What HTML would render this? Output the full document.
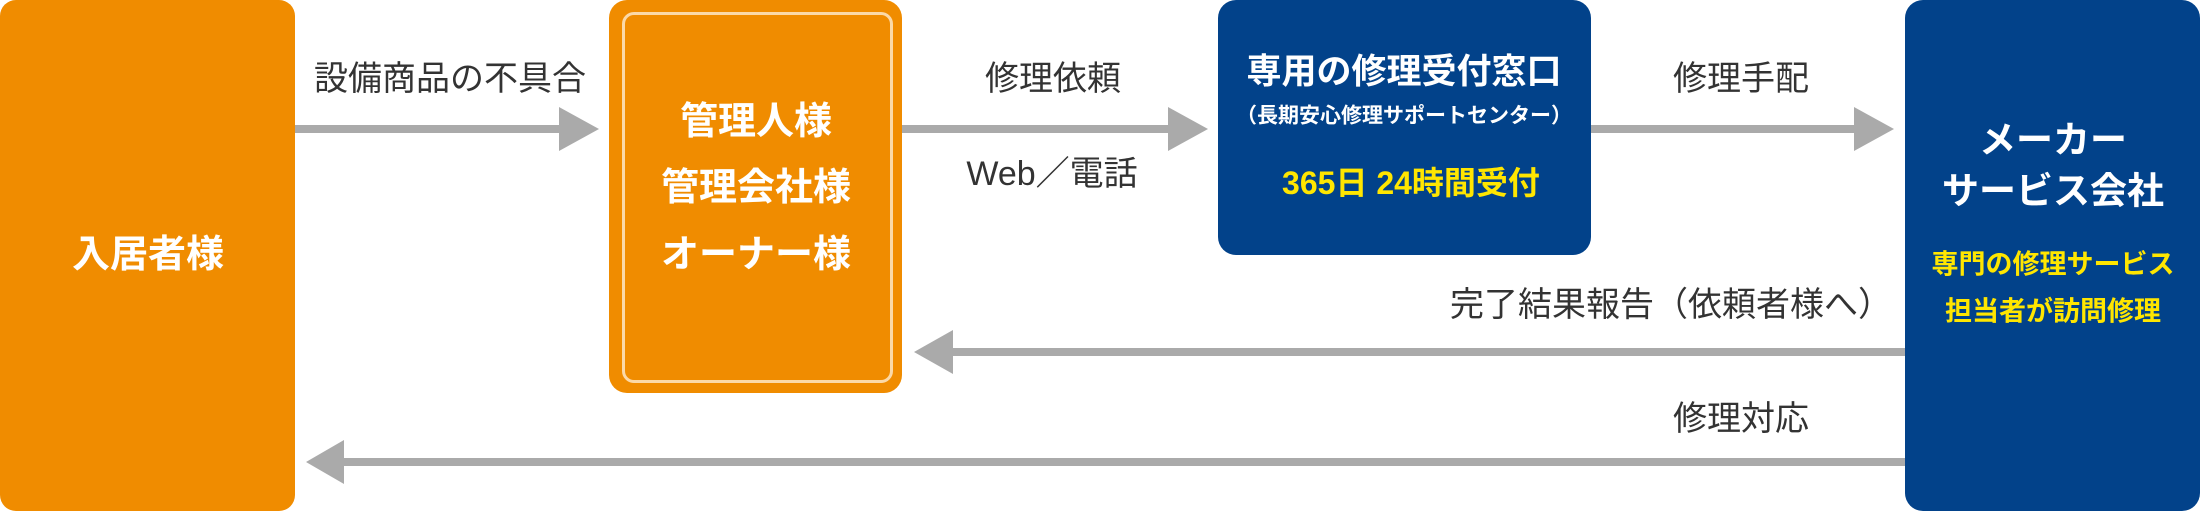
<!DOCTYPE html>
<html><head><meta charset="utf-8"><style>
html,body{margin:0;padding:0;background:#fff}
body{width:2200px;height:511px;position:relative;overflow:hidden;font-family:"Liberation Sans","Noto Sans CJK JP",sans-serif}
.b{position:absolute}
.t{position:absolute;white-space:nowrap;transform:translate(-50%,-50%);line-height:1}
.w{color:#fff;font-weight:bold}
.y{color:#FFE600;font-weight:bold}
.g{color:#333;font-size:34px}
</style></head><body>
<div class="b" style="left:0;top:0;width:295px;height:511px;background:#F08C00;border-radius:16px"></div>
<div class="b" style="left:609px;top:0;width:293px;height:393px;background:#F08C00;border-radius:18px"></div>
<div class="b" style="left:622px;top:12px;width:265px;height:365px;border:3px solid #FBD9A8;border-radius:12px"></div>
<div class="b" style="left:1218px;top:0;width:373px;height:255px;background:#02428A;border-radius:18px"></div>
<div class="b" style="left:1905px;top:0;width:295px;height:511px;background:#02428A;border-radius:18px"></div>
<svg class="b" style="left:0;top:0" width="2200" height="511">
<g fill="#AAAAAA">
<rect x="295" y="125" width="265" height="8"/><polygon points="559,107 599,129 559,151"/>
<rect x="902" y="125" width="268" height="8"/><polygon points="1168,107 1208,129 1168,151"/>
<rect x="1591" y="125" width="265" height="8"/><polygon points="1854,107 1894,129 1854,151"/>
<rect x="950" y="348" width="955" height="8"/><polygon points="953,330 914,352 953,374"/>
<rect x="342" y="458" width="1563" height="8"/><polygon points="344,440 306,462 344,484"/>
</g></svg>
<div class="t w" style="left:148px;top:255px;font-size:38px">入居者様</div>
<div class="t w" style="left:756px;top:122px;font-size:38px">管理人様</div>
<div class="t w" style="left:756px;top:188px;font-size:38px">管理会社様</div>
<div class="t w" style="left:756px;top:255px;font-size:38px">オーナー様</div>
<div class="t w" style="left:1404px;top:72px;font-size:35px">専用の修理受付窓口</div>
<div class="t w" style="left:1404px;top:116px;font-size:21px">（長期安心修理サポートセンター）</div>
<div class="t y" style="left:1411px;top:183px;font-size:32px">365日 24時間受付</div>
<div class="t w" style="left:2053px;top:140px;font-size:37px">メーカー</div>
<div class="t w" style="left:2053px;top:191px;font-size:37px">サービス会社</div>
<div class="t y" style="left:2053px;top:265px;font-size:27px">専門の修理サービス</div>
<div class="t y" style="left:2053px;top:312px;font-size:27px">担当者が訪問修理</div>
<div class="t g" style="left:450px;top:79px">設備商品の不具合</div>
<div class="t g" style="left:1053px;top:79px">修理依頼</div>
<div class="t g" style="left:1052px;top:174px">Web／電話</div>
<div class="t g" style="left:1741px;top:79px">修理手配</div>
<div class="t g" style="left:1671px;top:305px;font-size:34px">完了結果報告（依頼者様へ）</div>
<div class="t g" style="left:1741px;top:419px">修理対応</div>
</body></html>
